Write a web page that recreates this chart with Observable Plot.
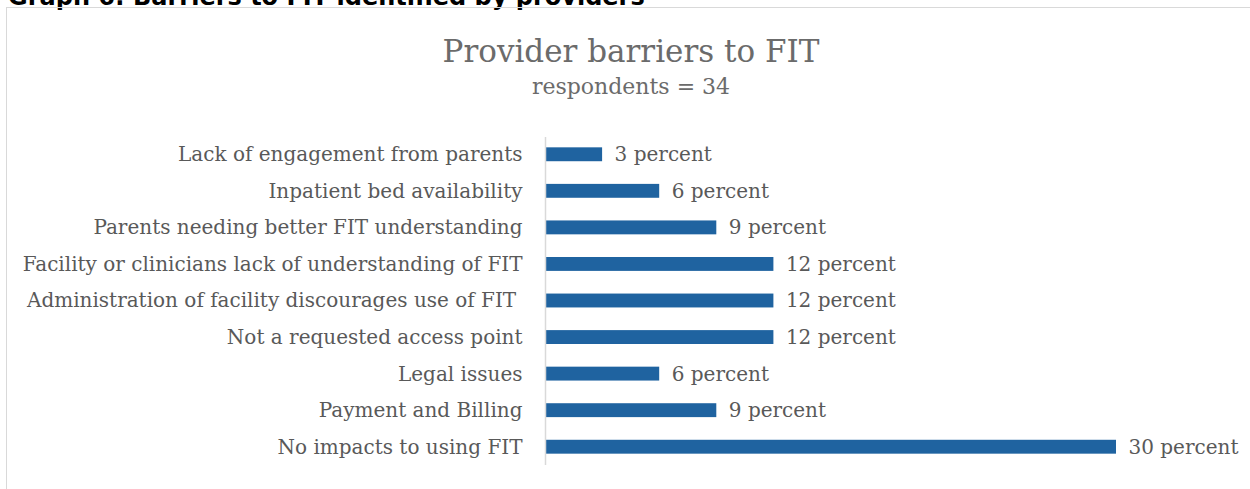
<!DOCTYPE html>
<html>
<head>
<meta charset="utf-8">
<script src="https://cdn.jsdelivr.net/npm/d3@7"></script>
<script src="https://cdn.jsdelivr.net/npm/@observablehq/plot@0.6"></script>
<style>
  html, body { margin: 0; padding: 0; background: #fff; width: 1250px; height: 489px; overflow: hidden; }
  #heading { position: absolute; left: 8px; top: -17px; line-height: normal; font-family: "DejaVu Sans", sans-serif; font-weight: bold; font-size: 24px; color: #000; white-space: nowrap; }
  #frame { position: absolute; left: 6px; top: 7px; width: 1260px; height: 500px; border: 1px solid #d9d9d9; box-sizing: border-box; }
  #title { position: absolute; left: 0; width: 1262px; top: 33px; line-height: normal; text-align: center; font-family: "DejaVu Serif", serif; font-size: 31px; color: #6b6b6b; }
  #subtitle { position: absolute; left: 0; width: 1262px; top: 74px; line-height: normal; text-align: center; font-family: "DejaVu Serif", serif; font-size: 22px; color: #6b6b6b; }
  #chart { position: absolute; left: 0; top: 110px; }
</style>
</head>
<body>
<div id="heading">Graph 6: Barriers to FIT identified by providers</div>
<div id="frame"></div>
<div id="title">Provider barriers to FIT</div>
<div id="subtitle">respondents = 34</div>
<div id="chart"></div>
<script>
const categories = [
  "Lack of engagement from parents",
  "Inpatient bed availability",
  "Parents needing better FIT understanding",
  "Facility or clinicians lack of understanding of FIT",
  "Administration of facility discourages use of FIT ",
  "Not a requested access point",
  "Legal issues",
  "Payment and Billing",
  "No impacts to using FIT"
];
const values = [3, 6, 9, 12, 12, 12, 6, 9, 30];
const labels = ["3 percent", "6 percent", "9 percent", "12 percent", "12 percent", "12 percent", "6 percent", "9 percent", "30 percent"];

const data = categories.map((c, i) => ({category: c, value: values[i], label: labels[i]}));

const font = "DejaVu Serif";
const chart = Plot.plot({
  width: 1250,
  height: 379,
  marginLeft: 545,
  marginRight: 134,
  marginTop: 26,
  marginBottom: 24,
  style: {fontFamily: font, fontSize: "20px", color: "#595959", background: "transparent"},
  x: {domain: [0, 30], axis: null},
  y: {domain: categories, paddingInner: 0.62, paddingOuter: 0.31, round: false, label: null},
  marks: [
    Plot.axisY({tickSize: 0, tickPadding: 23, fontSize: 20, fill: "#595959", label: null}),
    Plot.barX(data, {x: "value", y: "category", fill: "#1f63a0"}),
    Plot.ruleX([0], {stroke: "#d9d9d9", strokeWidth: 1.5, insetTop: 1}),
    Plot.text(data, {x: "value", y: "category", text: "label", textAnchor: "start", dx: 12, fill: "#595959", fontSize: 20})
  ]
});
document.getElementById("chart").appendChild(chart);
</script>
</body>
</html>
